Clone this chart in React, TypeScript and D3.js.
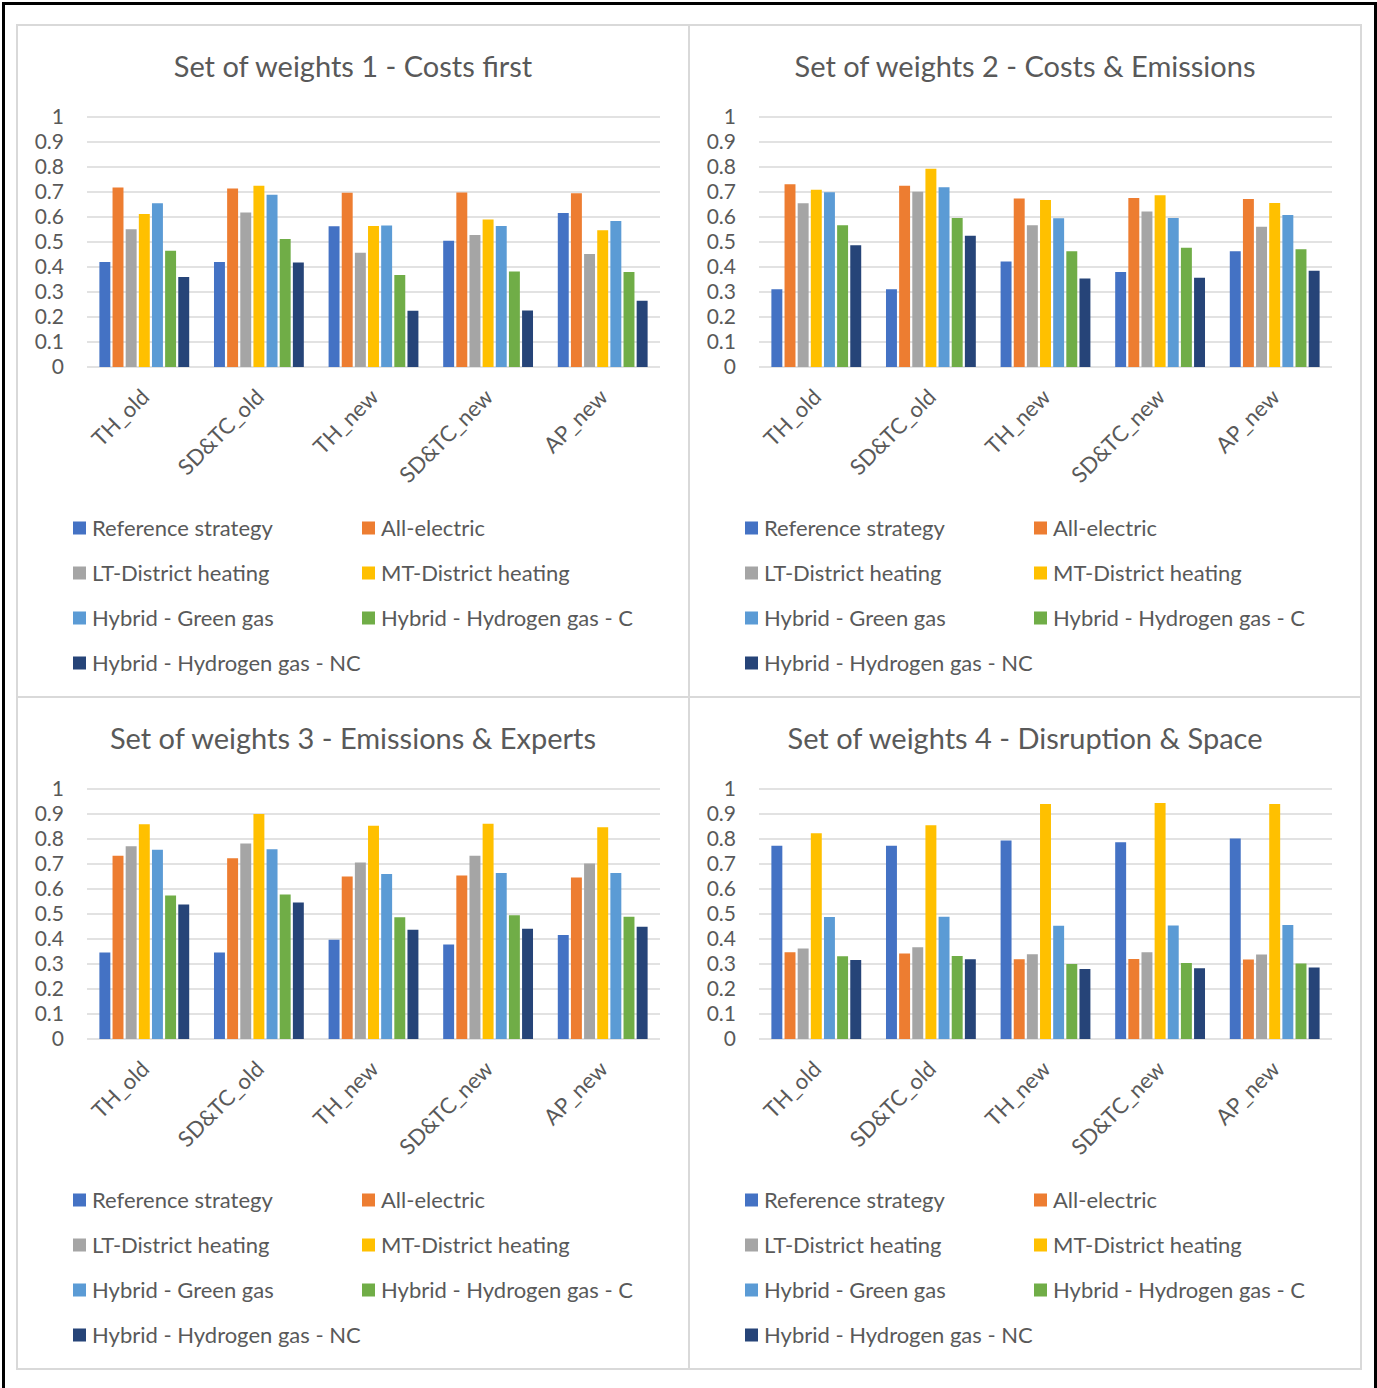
import React from "react";
import * as d3 from "d3";

const categories = ["TH_old", "SD&TC_old", "TH_new", "SD&TC_new", "AP_new"];
const seriesNames = [
  "Reference strategy",
  "All-electric",
  "LT-District heating",
  "MT-District heating",
  "Hybrid - Green gas",
  "Hybrid - Hydrogen gas - C",
  "Hybrid - Hydrogen gas - NC",
];
const seriesColors = ["#4472C4", "#ED7D31", "#A5A5A5", "#FFC000", "#5B9BD5", "#70AD47", "#264478"];
const yTicks = [0, 0.1, 0.2, 0.3, 0.4, 0.5, 0.6, 0.7, 0.8, 0.9, 1];

const titles = [
  "Set of weights 1 - Costs first",
  "Set of weights 2 - Costs & Emissions",
  "Set of weights 3 - Emissions & Experts",
  "Set of weights 4 - Disruption & Space",
];

// values[series][category]
const weights1 = [
  [0.42, 0.42, 0.563, 0.505, 0.616],
  [0.718, 0.714, 0.697, 0.698, 0.695],
  [0.551, 0.618, 0.457, 0.528, 0.452],
  [0.612, 0.725, 0.564, 0.59, 0.547],
  [0.655, 0.689, 0.566, 0.564, 0.584],
  [0.465, 0.512, 0.368, 0.382, 0.38],
  [0.36, 0.418, 0.225, 0.226, 0.265],
];
const weights2 = [
  [0.311, 0.311, 0.422, 0.38, 0.463],
  [0.731, 0.725, 0.674, 0.676, 0.672],
  [0.655, 0.701, 0.567, 0.622, 0.561],
  [0.709, 0.793, 0.668, 0.687, 0.656],
  [0.699, 0.719, 0.595, 0.596, 0.608],
  [0.567, 0.596, 0.463, 0.477, 0.471],
  [0.487, 0.525, 0.354, 0.357, 0.385],
];
const weights3 = [
  [0.346, 0.346, 0.397, 0.378, 0.416],
  [0.733, 0.723, 0.65, 0.654, 0.646],
  [0.771, 0.782, 0.706, 0.733, 0.702],
  [0.859, 0.9, 0.853, 0.861, 0.847],
  [0.757, 0.759, 0.66, 0.664, 0.664],
  [0.574, 0.578, 0.487, 0.495, 0.489],
  [0.538, 0.546, 0.437, 0.441, 0.449],
];
const weights4 = [
  [0.773, 0.773, 0.794, 0.787, 0.802],
  [0.347, 0.342, 0.319, 0.32, 0.318],
  [0.362, 0.367, 0.339, 0.347, 0.338],
  [0.823, 0.855, 0.94, 0.944, 0.94],
  [0.488, 0.489, 0.453, 0.454, 0.456],
  [0.331, 0.332, 0.3, 0.304, 0.302],
  [0.316, 0.319, 0.28, 0.283, 0.286],
];
const allWeights = [weights1, weights2, weights3, weights4];

const FONT = "Lato, 'Noto Sans', sans-serif";
const TEXT = "#595959";
const GRID = "#d9d9d9";
const PANEL = 672;
const ORIGIN_X = 17;
const ORIGIN_Y = 25;

function Panel({ title, data, px, py }: { title: string; data: number[][]; px: number; py: number }) {
  const x0 = d3.scaleBand<string>().domain(categories).range([70, 643]).paddingInner(0.197).paddingOuter(0.0985);
  const x1 = d3.scaleBand<string>().domain(seriesNames).range([0, x0.bandwidth()]);
  const y = d3.scaleLinear().domain([0, 1]).range([342, 92]);
  const gap = 2.2;
  return (
    <g transform={`translate(${px},${py})`}>
      <text x={PANEL / 2} y={52} textAnchor="middle" fontSize={29} fill={TEXT} fontFamily={FONT}>
        {title}
      </text>
      {yTicks.map((t) => (
        <g key={t}>
          <line x1={70} x2={643} y1={y(t)} y2={y(t)} stroke={GRID} strokeWidth={1.6} />
          <text x={47} y={y(t)} dy="0.35em" textAnchor="end" fontSize={21} fill={TEXT} fontFamily={FONT}>
            {String(t)}
          </text>
        </g>
      ))}
      {categories.map((c, ci) => (
        <g key={c}>
          {seriesNames.map((s, si) => {
            const v = data[si][ci];
            return (
              <rect
                key={s}
                x={(x0(c) as number) + (x1(s) as number) + gap / 2}
                y={y(v)}
                width={x1.bandwidth() - gap}
                height={y(0) - y(v)}
                fill={seriesColors[si]}
              />
            );
          })}
          <text
            transform={`translate(${(x0(c) as number) + x0.bandwidth() / 2 + 1},${y(0) + 26}) rotate(-45)`}
            textAnchor="end"
            dy="0.35em"
            fontSize={22}
            fill={TEXT}
            fontFamily={FONT}
          >
            {c}
          </text>
        </g>
      ))}
      {seriesNames.map((s, si) => {
        const col = si % 2;
        const row = Math.floor(si / 2);
        const lx = col === 0 ? 56 : 345;
        const ly = 503 + row * 45;
        return (
          <g key={s}>
            <rect x={lx} y={ly - 6.5} width={13} height={13} fill={seriesColors[si]} />
            <text x={lx + 19} y={ly} dy="0.35em" fontSize={22} fill={TEXT} fontFamily={FONT}>
              {s}
            </text>
          </g>
        );
      })}
    </g>
  );
}

export default function App() {
  return (
    <svg width={1377} height={1388} style={{ position: "absolute", left: 0, top: 0 }}>
      <rect x={0} y={0} width={1377} height={1388} fill="#ffffff" />
      <path d="M3.5,1388 L3.5,3.5 L1375.5,3.5 L1375.5,1388" fill="none" stroke="#000" strokeWidth={3} />
      {titles.map((t, i) => (
        <Panel
          key={t}
          title={t}
          data={allWeights[i]}
          px={ORIGIN_X + (i % 2) * PANEL}
          py={ORIGIN_Y + Math.floor(i / 2) * PANEL}
        />
      ))}
      <rect x={ORIGIN_X} y={ORIGIN_Y} width={PANEL * 2} height={PANEL * 2} fill="none" stroke={GRID} strokeWidth={2} />
      <line x1={ORIGIN_X + PANEL} x2={ORIGIN_X + PANEL} y1={ORIGIN_Y} y2={ORIGIN_Y + PANEL * 2} stroke={GRID} strokeWidth={2} />
      <line x1={ORIGIN_X} x2={ORIGIN_X + PANEL * 2} y1={ORIGIN_Y + PANEL} y2={ORIGIN_Y + PANEL} stroke={GRID} strokeWidth={2} />
    </svg>
  );
}
